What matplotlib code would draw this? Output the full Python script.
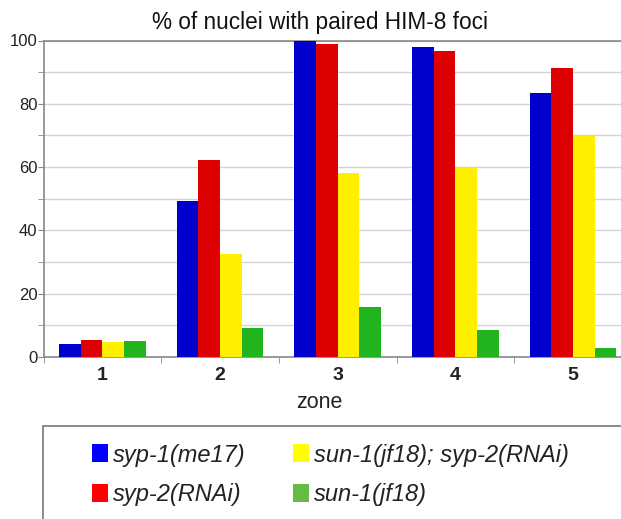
import matplotlib
matplotlib.use("Agg")
import matplotlib.pyplot as plt
import numpy as np
from matplotlib.patches import Rectangle, Patch
from matplotlib.ticker import MultipleLocator

plt.rcParams['font.family'] = ['Liberation Sans', 'DejaVu Sans']

zones = ["1", "2", "3", "4", "5"]
series_names = ["syp-1(me17)", "syp-2(RNAi)", "sun-1(jf18); syp-2(RNAi)", "sun-1(jf18)"]
syp1_me17 = [4.1, 49.3, 100.0, 97.8, 83.3]
syp2_rnai = [5.4, 62.3, 99.0, 96.8, 91.4]
sun1_syp2 = [4.6, 32.5, 58.0, 59.8, 69.9]
sun1_jf18 = [5.0, 9.1, 15.7, 8.4, 2.9]
yticks = [0, 20, 40, 60, 80, 100]

bar_colors = ["#0000CC", "#DD0000", "#FFF000", "#22B41E"]
legend_colors = ["#0000FF", "#FF0000", "#FFFF00", "#66BB44"]

W, H = 621, 519
fig = plt.figure(figsize=(W / 100, H / 100), dpi=100)
left_px, right_px, top_px, bottom_px = 43.5, 632.0, 40.5, 357.0
ax = fig.add_axes([left_px / W, 1 - bottom_px / H,
                   (right_px - left_px) / W, (bottom_px - top_px) / H])

x = np.arange(len(zones))
bw = 0.184
data = [syp1_me17, syp2_rnai, sun1_syp2, sun1_jf18]
for i, (vals, col) in enumerate(zip(data, bar_colors)):
    ax.bar(x + (i - 1.5) * bw, vals, width=bw, color=col, edgecolor='none', zorder=3)

ax.set_xlim(-0.5, 4.5)
ax.set_ylim(0, 100)
ax.set_yticks(yticks)
ax.yaxis.set_minor_locator(MultipleLocator(10))
ax.grid(axis='y', which='both', color='#d4d4d4', linewidth=1.0, zorder=0)
ax.tick_params(axis='y', which='both', length=4, color='#888888', labelsize=12,
               labelcolor='#222222', pad=0.5)
ax.set_xticks(x)
ax.set_xticklabels(zones, fontsize=14, fontweight='bold', color='#222222')
ax.set_xticks(np.arange(-0.5, 5.0, 1.0), minor=True)
ax.tick_params(axis='x', which='major', length=0, pad=7.5)
ax.tick_params(axis='x', which='minor', length=4, color='#888888')
for s in ['left', 'bottom', 'top']:
    ax.spines[s].set_color('#888888')
    ax.spines[s].set_linewidth(1.2)
ax.spines['right'].set_visible(False)

cx = (319.5 - left_px) / (right_px - left_px)
ax.set_title("% of nuclei with paired HIM-8 foci", fontsize=16.3, x=cx, pad=8, color='#111111')
ax.set_xlabel("zone", fontsize=15.5, color='#222222')
ax.xaxis.set_label_coords(cx, -(402 - bottom_px) / (bottom_px - top_px), transform=ax.transAxes)
ax.xaxis.label.set_va('center')

# legend box
fig.patches.append(Rectangle((42.5 / W, -0.05), 1.1, (1 - 425.5 / H) + 0.05,
                             transform=fig.transFigure, facecolor='white',
                             edgecolor='#777777', linewidth=1.2, zorder=0))
handles = [Patch(facecolor=c, edgecolor='none') for c in legend_colors]
fs = 17
leg = fig.legend(handles, series_names, loc='upper left',
                 bbox_to_anchor=(75 / W, 1 - 427 / H), ncol=2, frameon=False,
                 prop={'size': fs, 'style': 'italic'},
                 handlelength=16 / (fs * 100 / 72), handleheight=19 / (fs * 100 / 72),
                 handletextpad=0.22, columnspacing=2.0, labelspacing=0.7, borderpad=0.2)
for t in leg.get_texts():
    t.set_color('#222222')

fig.savefig("out.png", dpi=100)
